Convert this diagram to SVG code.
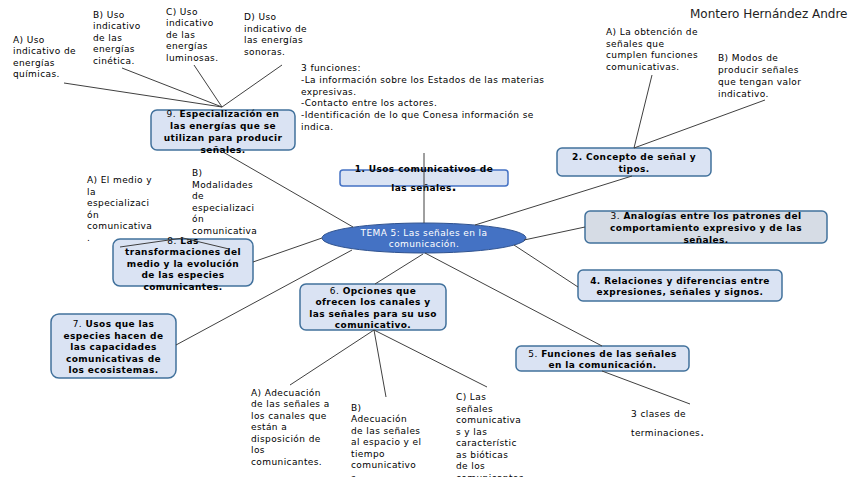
<svg xmlns="http://www.w3.org/2000/svg" width="848" height="477" viewBox="0 0 848 477">
<style>
text{font-family:"DejaVu Sans","Liberation Sans",sans-serif;font-size:9px;fill:#000;letter-spacing:0.4px}
.b{font-weight:bold}
.n{font-weight:normal}
.c{text-anchor:middle}
.box{fill:#dae3f3;stroke:#41719c;stroke-width:1.5}
.ln{stroke:#404040;stroke-width:1;fill:none}
</style>
<rect width="848" height="477" fill="#fff"/>
<text x="690" y="18" style="font-size:12px;fill:#222;letter-spacing:0">Montero Hernández Andre</text>

<g id="tema">
<ellipse cx="424" cy="238" rx="102" ry="15" fill="#4472c4" stroke="#2f528f" stroke-width="1"/>
<text class="c" x="424" y="236" style="fill:#fff">TEMA 5: Las señales en la</text>
<text class="c" x="424" y="247" style="fill:#fff">comunicación.</text>
</g>

<g id="n1">
<rect class="box" x="340" y="170" width="168" height="16" rx="3" style="stroke:#4472c4"/>
<text class="c b" x="424" y="172">1. Usos comunicativos de</text>
<text class="c b" x="424" y="191">las señales<tspan style="font-size:12px">.</tspan></text>
</g>

<g id="n2">
<rect class="box" x="557" y="148" width="154" height="28" rx="5"/>
<text class="c b" x="634" y="160">2. Concepto de señal y</text>
<text class="c b" x="634" y="172">tipos.</text>
</g>
<g id="n2a"><text x="606" y="35">A) La obtención de<tspan x="606" y="46.5">señales que</tspan><tspan x="606" y="58">cumplen funciones</tspan><tspan x="606" y="69.5">comunicativas.</tspan></text></g>
<g id="n2b"><text x="718" y="61">B) Modos de<tspan x="718" y="73">producir señales</tspan><tspan x="718" y="85">que tengan valor</tspan><tspan x="718" y="96.5">indicativo.</tspan></text></g>

<g id="n3">
<rect class="box" x="585" y="211" width="242" height="32" rx="5" style="fill:#d6dce5"/>
<text class="c b" x="706" y="218.5"><tspan class="n">3.</tspan> Analogías entre los patrones del</text>
<text class="c b" x="706" y="230.5">comportamiento expresivo y de las</text>
<text class="c b" x="706" y="243">señales.</text>
</g>

<g id="n4">
<rect class="box" x="578" y="270" width="204" height="31" rx="5"/>
<text class="c b" x="680" y="283.5">4. Relaciones y diferencias entre</text>
<text class="c b" x="680" y="295">expresiones, señales y signos.</text>
</g>

<g id="n5">
<rect class="box" x="516" y="346" width="173" height="25" rx="5"/>
<text class="c b" x="602.5" y="357"><tspan class="n">5.</tspan> Funciones de las señales</text>
<text class="c b" x="602.5" y="368">en la comunicación.</text>
</g>
<g id="n5a"><text x="631" y="416.5">3 clases de</text><text x="631" y="435.5">terminaciones<tspan style="font-size:12px">.</tspan></text></g>

<g id="n6">
<rect class="box" x="300" y="284" width="146" height="46" rx="6"/>
<text class="c b" x="373" y="293.5"><tspan class="n">6.</tspan> Opciones que</text>
<text class="c b" x="373" y="305">ofrecen los canales y</text>
<text class="c b" x="373" y="316.5">las señales para su uso</text>
<text class="c b" x="373" y="328">comunicativo.</text>
</g>
<g id="n6a"><text x="251" y="395.5">A) Adecuación<tspan x="251" y="407">de las señales a</tspan><tspan x="251" y="418.5">los canales que</tspan><tspan x="251" y="430">están a</tspan><tspan x="251" y="441.5">disposición de</tspan><tspan x="251" y="453">los</tspan><tspan x="251" y="464.5">comunicantes.</tspan></text></g>
<g id="n6b"><text x="351" y="410.5">B)<tspan x="351" y="422">Adecuación</tspan><tspan x="351" y="433.5">de las señales</tspan><tspan x="351" y="445">al espacio y el</tspan><tspan x="351" y="456.5">tiempo</tspan><tspan x="351" y="468">comunicativo</tspan><tspan x="351" y="480.5">s.</tspan></text></g>
<g id="n6c"><text x="456" y="400">C) Las<tspan x="456" y="411.5">señales</tspan><tspan x="456" y="423">comunicativa</tspan><tspan x="456" y="434.5">s y las</tspan><tspan x="456" y="446">característic</tspan><tspan x="456" y="457.5">as bióticas</tspan><tspan x="456" y="469">de los</tspan><tspan x="456" y="481">comunicantes.</tspan></text></g>

<g id="n7">
<rect class="box" x="51" y="314" width="125" height="64" rx="8"/>
<text class="c b" x="113.5" y="327"><tspan class="n">7.</tspan> Usos que las</text>
<text class="c b" x="113.5" y="338.5">especies hacen de</text>
<text class="c b" x="113.5" y="350">las capacidades</text>
<text class="c b" x="113.5" y="361.5">comunicativas de</text>
<text class="c b" x="113.5" y="373">los ecosistemas.</text>
</g>

<g id="n8">
<rect class="box" x="113" y="239" width="140" height="47" rx="7"/>
<text class="c b" x="183" y="243.5"><tspan class="n">8.</tspan> Las</text>
<text class="c b" x="183" y="255">transformaciones del</text>
<text class="c b" x="183" y="266.5">medio y la evolución</text>
<text class="c b" x="183" y="278">de las especies</text>
<text class="c b" x="183" y="289.5">comunicantes.</text>
</g>
<g id="n8a"><text x="87" y="183">A) El medio y<tspan x="87" y="194.5">la</tspan><tspan x="87" y="206">especializaci</tspan><tspan x="87" y="217.5">ón</tspan><tspan x="87" y="229">comunicativa</tspan><tspan x="87" y="240.5">.</tspan></text></g>
<g id="n8b"><text x="192" y="176">B)<tspan x="192" y="187.5">Modalidades</tspan><tspan x="192" y="199">de</tspan><tspan x="192" y="210.5">especializaci</tspan><tspan x="192" y="222">ón</tspan><tspan x="192" y="233.5">comunicativa</tspan></text></g>

<g id="n9">
<rect class="box" x="151" y="110" width="144" height="40" rx="6"/>
<text class="c b" x="223" y="116.5"><tspan class="n">9.</tspan> Especialización en</text>
<text class="c b" x="223" y="129">las energías que se</text>
<text class="c b" x="223" y="141">utilizan para producir</text>
<text class="c b" x="223" y="152.5">señales.</text>
</g>
<g id="n9a"><text x="13" y="42.5">A) Uso<tspan x="13" y="54">indicativo de</tspan><tspan x="13" y="65.5">energías</tspan><tspan x="13" y="77">químicas.</tspan></text></g>
<g id="n9b"><text x="93" y="17.5">B) Uso<tspan x="93" y="29">indicativo</tspan><tspan x="93" y="40.5">de las</tspan><tspan x="93" y="52">energías</tspan><tspan x="93" y="63.5">cinética.</tspan></text></g>
<g id="n9c"><text x="166" y="14.5">C) Uso<tspan x="166" y="26">indicativo</tspan><tspan x="166" y="37.5">de las</tspan><tspan x="166" y="49">energías</tspan><tspan x="166" y="60.5">luminosas.</tspan></text></g>
<g id="n9d"><text x="244" y="20">D) Uso<tspan x="244" y="31.5">indicativo de</tspan><tspan x="244" y="43">las energías</tspan><tspan x="244" y="54.5">sonoras.</tspan></text></g>

<g id="n1a"><text x="301" y="71">3 funciones:<tspan x="301" y="83">-La información sobre los Estados de las materias</tspan><tspan x="301" y="94.5">expresivas.</tspan><tspan x="301" y="106">-Contacto entre los actores.</tspan><tspan x="301" y="118">-Identificación de lo que Conesa información se</tspan><tspan x="301" y="129.5">indica.</tspan></text></g>

<g id="connectors" class="ln">
<line x1="424" y1="223" x2="424" y2="153"/>
<line x1="475" y1="225" x2="632" y2="176"/>
<line x1="634" y1="148" x2="652" y2="75"/>
<line x1="634" y1="148" x2="765" y2="100"/>
<line x1="524" y1="240" x2="585" y2="227"/>
<line x1="514" y1="245" x2="578" y2="287"/>
<line x1="425" y1="253" x2="602" y2="346"/>
<line x1="602" y1="371" x2="690" y2="404"/>
<line x1="423" y1="254" x2="375" y2="284"/>
<line x1="374" y1="330" x2="290" y2="385"/>
<line x1="374" y1="330" x2="386" y2="397"/>
<line x1="374" y1="330" x2="487" y2="387"/>
<line x1="352" y1="250" x2="176" y2="345"/>
<line x1="322" y1="238" x2="253" y2="262"/>
<polyline points="120,247 183,238 229,249"/>
<line x1="353" y1="227" x2="223" y2="152"/>
<line x1="222" y1="107" x2="64" y2="83"/>
<line x1="222" y1="107" x2="122" y2="68"/>
<line x1="222" y1="107" x2="194" y2="65"/>
<line x1="222" y1="107" x2="282" y2="65"/>
</g>
</svg>
